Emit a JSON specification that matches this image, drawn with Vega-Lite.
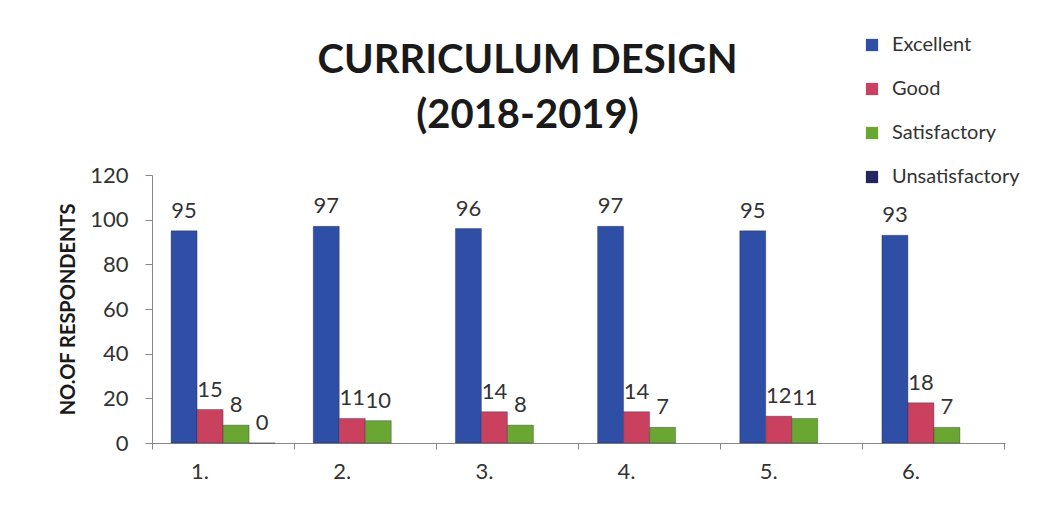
{
  "$schema": "https://vega.github.io/schema/vega-lite/v6.json",
  "width": 853,
  "height": 268,
  "autosize": {"type": "none"},
  "padding": {"left": 152, "top": 175, "right": 36, "bottom": 79},
  "background": "white",
  "config": {"font": "Lato", "view": {"stroke": null}},
  "title": {
    "text": ["CURRICULUM DESIGN", "(2018-2019)"],
    "fontSize": 40,
    "fontWeight": "bold",
    "font": "Lato",
    "color": "#1a1a1a",
    "lineHeight": 55,
    "frame": "group",
    "anchor": "middle",
    "dx": -51,
    "dy": 135,
    "offset": 34
  },
  "data": {
    "values": [
      {"item": "1.", "rating": "Excellent", "count": 95},
      {"item": "1.", "rating": "Good", "count": 15},
      {"item": "1.", "rating": "Satisfactory", "count": 8},
      {"item": "1.", "rating": "Unsatisfactory", "count": 0},
      {"item": "2.", "rating": "Excellent", "count": 97},
      {"item": "2.", "rating": "Good", "count": 11},
      {"item": "2.", "rating": "Satisfactory", "count": 10},
      {"item": "3.", "rating": "Excellent", "count": 96},
      {"item": "3.", "rating": "Good", "count": 14},
      {"item": "3.", "rating": "Satisfactory", "count": 8},
      {"item": "4.", "rating": "Excellent", "count": 97},
      {"item": "4.", "rating": "Good", "count": 14},
      {"item": "4.", "rating": "Satisfactory", "count": 7},
      {"item": "5.", "rating": "Excellent", "count": 95},
      {"item": "5.", "rating": "Good", "count": 12},
      {"item": "5.", "rating": "Satisfactory", "count": 11},
      {"item": "6.", "rating": "Excellent", "count": 93},
      {"item": "6.", "rating": "Good", "count": 18},
      {"item": "6.", "rating": "Satisfactory", "count": 7}
    ]
  },
  "encoding": {
    "x": {
      "field": "item",
      "type": "nominal",
      "sort": null,
      "scale": {"paddingInner": 0, "paddingOuter": 0},
      "axis": {
        "title": null,
        "labelAngle": 0,
        "labelFontSize": 22,
        "labelColor": "#333333",
        "labelPadding": 12,
        "bandPosition": 1,
        "tickExtra": true,
        "labelOffset": -23,
        "tickSize": 6,
        "tickColor": "#888888",
        "domainColor": "#888888"
      }
    },
    "xOffset": {
      "field": "rating",
      "type": "nominal",
      "scale": {
        "domain": ["Excellent", "Good", "Satisfactory", "Unsatisfactory"],
        "paddingInner": 0,
        "paddingOuter": 0.734
      }
    },
    "y": {
      "field": "count",
      "type": "quantitative",
      "scale": {"domain": [0, 120]},
      "axis": {
        "values": [0, 20, 40, 60, 80, 100, 120],
        "grid": false,
        "tickSize": 7,
        "labelFontSize": 22,
        "labelColor": "#333333",
        "labelPadding": 17,
        "domainColor": "#888888",
        "tickColor": "#888888",
        "title": "NO.OF RESPONDENTS",
        "titleFontSize": 20,
        "titleFontWeight": "bold",
        "titleColor": "#1a1a1a",
        "titleX": -84,
        "titleY": 134,
        "titleAngle": -90,
        "titleAlign": "center",
        "titleBaseline": "middle"
      }
    }
  },
  "layer": [
    {
      "mark": {"type": "bar", "strokeWidth": 0.8, "strokeOpacity": 0.4, "stroke": "#1a1a3a"},
      "encoding": {
        "color": {
          "field": "rating",
          "type": "nominal",
          "scale": {
            "domain": ["Excellent", "Good", "Satisfactory", "Unsatisfactory"],
            "range": ["#2E4FA5", "#C9415F", "#6AA632", "#24265F"]
          },
          "legend": {
            "title": null,
            "orient": "none",
            "legendX": 710,
            "legendY": -140,
            "symbolType": "square",
            "symbolSize": 150,
            "symbolStrokeWidth": 0,
            "labelFontSize": 20,
            "labelColor": "#333333",
            "labelOffset": 10,
            "rowPadding": 24,
            "padding": 0
          }
        }
      }
    },
    {
      "mark": {"type": "text", "baseline": "bottom", "dy": -8, "fontSize": 22, "color": "#333333"},
      "encoding": {"text": {"field": "count", "type": "quantitative"}}
    }
  ]
}
